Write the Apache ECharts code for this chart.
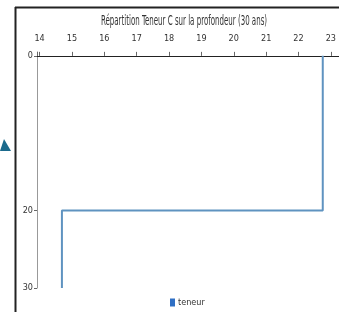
<!DOCTYPE html>
<html><head><meta charset="utf-8">
<script src="https://cdn.jsdelivr.net/npm/echarts@6/dist/echarts.min.js"></script>
<style>html,body{margin:0;padding:0;background:#fff}#c{width:339px;height:312px}</style>
</head><body><div id="c"></div>
<script>
var layerTop = [0, 20];
var layerBottom = [20, 30];
var teneurValues = [22.75, 14.69];
var xTickLabels = [14, 15, 16, 17, 18, 19, 20, 21, 22, 23];
var yTickLabels = [0, 20, 30];
var seriesName = 'teneur';
var titleText = 'Répartition Teneur C sur la profondeur (30 ans)';

var pts = [];
for (var i = 0; i < teneurValues.length; i++) {
  pts.push([teneurValues[i], layerTop[i]]);
  pts.push([teneurValues[i], layerBottom[i]]);
}
var font = '"DejaVu Sans Condensed", sans-serif';
var chart = echarts.init(document.getElementById('c'));
chart.setOption({
  animation: false,
  legend: { data: [{ name: seriesName, itemStyle: { color: '#2f6fc4' } }], left: 165, top: 293,
    icon: 'rect', itemWidth: 5, itemHeight: 8, itemGap: 3,
    textStyle: { fontFamily: font, fontSize: 9, color: '#333', padding: [0,0,0,-2] } },
  grid: { left: 37, right: 0, top: 52, bottom: 24, containLabel: false },
  xAxis: { type: 'value', position: 'top', min: 13.92, max: 23.24,
    axisLine: { show: true, lineStyle: { color: '#222', width: 1 } },
    axisTick: { show: true, length: 4, customValues: [13.92].concat(xTickLabels), lineStyle: { color: '#666' } },
    axisLabel: { customValues: xTickLabels, fontFamily: font, fontSize: 9, color: '#333', margin: 9 },
    splitLine: { show: false } },
  yAxis: { type: 'value', inverse: true, min: -0.5, max: 30,
    axisLine: { show: true, lineStyle: { color: '#999', width: 1 } },
    axisTick: { show: true, length: 3, customValues: yTickLabels, lineStyle: { color: '#666' } },
    axisLabel: { customValues: yTickLabels, fontFamily: font, fontSize: 9, color: '#333', margin: 4 },
    splitLine: { show: false } },
  series: [{ name: seriesName, type: 'line', data: pts, showSymbol: false, symbol: 'none',
    lineStyle: { color: '#5f93c0', width: 2 }, itemStyle: { color: '#2f6fc4' } }],
  graphic: [
    { type: 'line', shape: { x1: 15, y1: 7.5, x2: 339, y2: 7.5 }, style: { stroke: '#222', lineWidth: 2 } },
    { type: 'line', shape: { x1: 15.5, y1: 7, x2: 15.5, y2: 312 }, style: { stroke: '#222', lineWidth: 2 } },
    { type: 'polygon', shape: { points: [[0, 151], [4, 139], [11, 151]] }, style: { fill: '#1b6a8c' } },
    { type: 'text', x: 184, y: 21, scaleX: 0.56,
      style: { text: titleText, fontFamily: font, fontSize: 14, fill: '#333', align: 'center', verticalAlign: 'middle' } }
  ]
});
</script></body></html>
